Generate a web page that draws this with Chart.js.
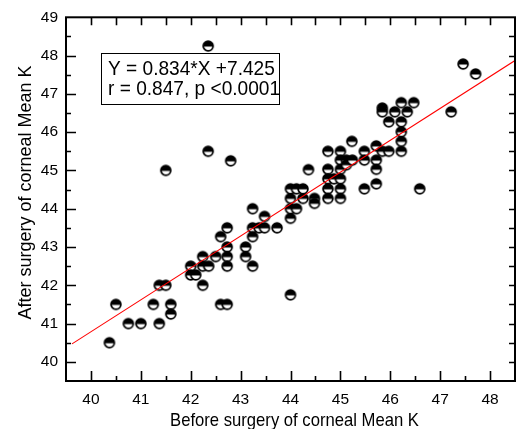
<!DOCTYPE html>
<html>
<head>
<meta charset="utf-8">
<script src="https://cdn.jsdelivr.net/npm/chart.js@4"></script>
<style>
  html, body { margin: 0; padding: 0; background: #fff; }
  #wrap { width: 520px; height: 429px; }
</style>
</head>
<body>
<div id="wrap"><canvas id="chart" width="520" height="429"></canvas></div>
<script>
// Pre-op corneal mean K (x) and post-op mean K (y)
const beforeK = [
  40.37, 40.5, 40.75, 41.0, 41.25, 41.37, 41.37, 41.5, 41.5, 41.6, 41.6,
  42.0, 42.0, 42.1, 42.24, 42.24, 42.36, 42.24, 42.35, 42.35, 42.5, 42.6, 42.6,
  42.73, 42.73, 42.73, 42.73, 42.73, 42.8, 43.1, 43.1, 43.24, 43.24, 43.24, 43.24,
  43.37, 43.48, 43.48, 43.73, 44.0, 44.0, 44.0, 44.12, 44.0, 44.25, 44.0, 44.12,
  44.25, 44.36, 44.48, 44.48, 44.75, 44.75, 44.75, 44.75, 44.75, 44.87, 45.0,
  45.0, 45.0, 45.0, 45.0, 45.0, 45.12, 45.12, 45.24, 45.23, 45.48, 45.48, 45.48,
  45.72, 45.72, 45.72, 45.72, 45.84, 45.97, 46.22, 46.22, 46.22, 46.22, 45.97,
  46.09, 46.34, 45.84, 45.84, 46.22, 46.47, 46.59, 47.22, 47.46, 47.71
];
const afterK = [
  40.5, 41.5, 41.0, 41.0, 41.5, 41.0, 42.0, 42.0, 45.0, 41.5, 41.25,
  42.5, 42.27, 42.27, 42.75, 42.5, 42.5, 42.0, 48.25, 45.5, 42.75, 43.27, 41.5,
  43.5, 43.0, 42.75, 42.5, 41.5, 45.25, 43.0, 42.75, 44.0, 43.5, 43.27, 42.5,
  43.5, 43.5, 43.8, 43.5, 43.75, 41.75, 44.0, 44.0, 44.27, 44.27, 44.52, 44.52,
  44.52, 45.02, 44.27, 44.14, 45.5, 45.03, 44.78, 44.52, 44.27, 44.78, 45.5,
  45.27, 45.03, 44.78, 44.52, 44.27, 45.27, 45.15, 45.27, 45.76, 45.5, 45.27, 44.52,
  45.64, 45.27, 45.03, 44.65, 45.5, 45.5, 45.5, 45.76, 46.01, 46.27, 46.27,
  46.53, 46.53, 46.63, 46.53, 46.77, 46.77, 44.52, 46.53, 47.78, 47.52
];

// Ends of the fitted line Y = 0.834*X + 7.425 as drawn
const fitX = [39.62, 48.5];
const fitY = [40.47, 47.87];

const xTicks = [40, 41, 42, 43, 44, 45, 46, 47, 48];
const yTicks = [40, 41, 42, 43, 44, 45, 46, 47, 48, 49];
const statLines = ['Y = 0.834*X +7.425', 'r = 0.847, p <0.0001'];
const xTitle = 'Before surgery of corneal Mean K';
const yTitle = 'After surgery of corneal Mean K';

const FONT = "'Liberation Sans', Arial, sans-serif";

// half black / half white marker
function halfDot(r) {
    const size = Math.ceil(r * 2 + 4);
    const c = document.createElement('canvas');
    c.width = c.height = size;
    const g = c.getContext('2d');
    const m = size / 2;
    g.beginPath(); g.arc(m, m, r, 0, Math.PI * 2); g.fillStyle = '#fff'; g.fill();
    g.beginPath(); g.arc(m, m, r, Math.PI * 0.97, Math.PI * 2.03); g.closePath(); g.fillStyle = '#000'; g.fill();
    g.beginPath(); g.arc(m, m, r, 0, Math.PI * 2); g.lineWidth = 1.8; g.strokeStyle = '#000'; g.stroke();
    return c;
}

// frame, inward tick marks, axis titles and the statistics box
const framePlugin = {
    id: 'frame',
    afterDraw(chart) {
        const { ctx, chartArea: a, scales: { x, y } } = chart;
        ctx.save();
        ctx.strokeStyle = '#000';
        ctx.lineWidth = 2;
        ctx.strokeRect(a.left, a.top, a.right - a.left, a.bottom - a.top);

        ctx.lineWidth = 1.6;
        ctx.beginPath();
        for (let v = 39.5; v <= 48.5; v += 0.5) {
            const px = Math.round(x.getPixelForValue(v)) + 0.5;
            if (px <= a.left + 1 || px >= a.right - 1) continue;
            const major = Number.isInteger(v);
            ctx.moveTo(px, a.bottom); ctx.lineTo(px, a.bottom - (major ? 10 : 5));
            ctx.moveTo(px, a.top); ctx.lineTo(px, a.top + 8);
        }
        for (let v = 39.5; v <= 49; v += 0.5) {
            const py = Math.round(y.getPixelForValue(v)) + 0.5;
            if (py <= a.top + 1 || py >= a.bottom - 1) continue;
            const major = Number.isInteger(v);
            ctx.moveTo(a.left, py); ctx.lineTo(a.left + (major ? 10 : 5), py);
            ctx.moveTo(a.right, py); ctx.lineTo(a.right - 6, py);
        }
        ctx.stroke();

        ctx.fillStyle = '#000';
        ctx.textBaseline = 'alphabetic';
        ctx.textAlign = 'center';

        // x title (slightly condensed like the original)
        ctx.save();
        ctx.translate(294.5, 426);
        ctx.scale(0.9, 1);
        ctx.font = '18.5px ' + FONT;
        ctx.fillText(xTitle, 0, 0);
        ctx.restore();

        // y title
        ctx.save();
        ctx.translate(30.5, 192.5);
        ctx.rotate(-Math.PI / 2);
        ctx.font = '18px ' + FONT;
        ctx.fillText(yTitle, 0, 0);
        ctx.restore();

        // stats box
        ctx.fillStyle = '#fff';
        ctx.fillRect(102, 54, 177, 50);
        ctx.lineWidth = 1;
        ctx.strokeRect(101.5, 53.5, 178, 51);
        ctx.fillStyle = '#000';
        ctx.textAlign = 'left';
        ctx.save();
        ctx.translate(108, 0);
        ctx.scale(0.91, 1);
        ctx.font = '21px ' + FONT;
        ctx.fillText(statLines[0], 0, 75);
        ctx.fillText(statLines[1], 0, 95);
        ctx.restore();
        ctx.restore();
    }
};

new Chart(document.getElementById('chart'), {
    type: 'scatter',
    data: {
        datasets: [
            {
                type: 'line',
                data: fitX.map((v, i) => ({ x: v, y: fitY[i] })),
                borderColor: '#ff0000',
                borderWidth: 1.1,
                pointRadius: 0,
                fill: false,
                order: 0
            },
            {
                data: beforeK.map((v, i) => ({ x: v, y: afterK[i] })),
                pointStyle: halfDot(4.9),
                order: 1
            }
        ]
    },
    options: {
        responsive: false,
        animation: false,
        devicePixelRatio: 1,
        layout: { padding: { top: 15, right: 1, left: 0, bottom: 0 } },
        plugins: { legend: { display: false }, tooltip: { enabled: false } },
        scales: {
            x: {
                type: 'linear',
                min: 39.5,
                max: 48.5,
                afterBuildTicks: s => { s.ticks = xTicks.map(v => ({ value: v })); },
                afterFit: s => { s.height = 48; },
                grid: { display: false, drawTicks: false },
                border: { display: false },
                ticks: {
                    color: '#000',
                    padding: 9,
                    maxRotation: 0,
                    font: { family: FONT, size: 15.5 }
                },
                title: { display: false }
            },
            y: {
                type: 'linear',
                min: 39.5,
                max: 49,
                afterBuildTicks: s => { s.ticks = yTicks.map(v => ({ value: v })); },
                afterFit: s => { s.width = 66; },
                grid: { display: false, drawTicks: false },
                border: { display: false },
                ticks: {
                    color: '#000',
                    padding: 8,
                    font: { family: FONT, size: 15.5 }
                },
                title: { display: false }
            }
        }
    },
    plugins: [framePlugin]
});
</script>
</body>
</html>
